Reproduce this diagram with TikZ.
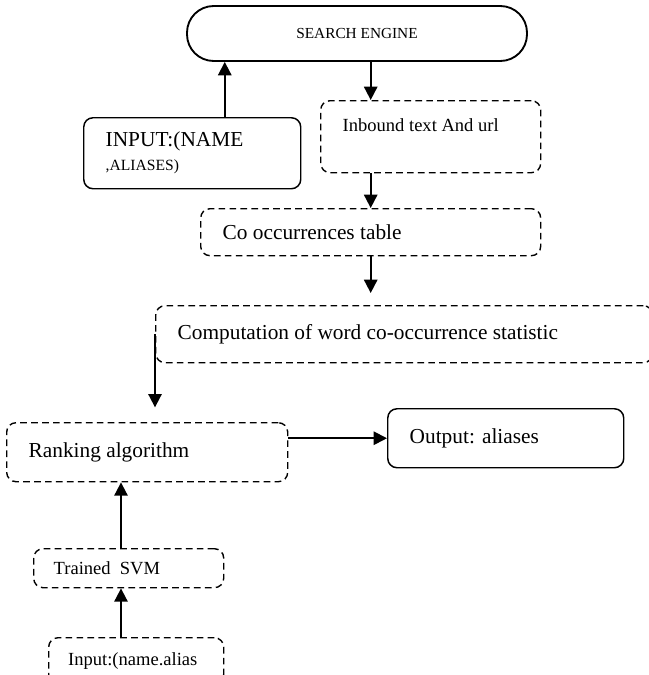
\documentclass[tikz,border=0pt]{standalone}
\usepackage{fontspec}
\setmainfont{Liberation Serif}
\usetikzlibrary{arrows.meta}

\begin{document}
\begin{tikzpicture}[x=0.75pt,y=-0.75pt,>={Triangle[length=10pt,width=10pt]}, line join=round,
    box/.style={draw, line width=1.1pt, rounded corners=7pt, anchor=north west, align=flush left, inner xsep=16.5pt, inner ysep=0pt},
    dbox/.style={box, line width=1.05pt, dash pattern=on 5pt off 3.2pt},
    conn/.style={->, line width=1.4pt}]
    \useasboundingbox (0,0) rectangle (649,675);
    \def\mainfont{\fontsize{16}{18}\selectfont}
    \def\midfont{\fontsize{13.9}{16}\selectfont}
    \node[draw, line width=1.4pt, rounded corners=20pt, minimum width=255pt, minimum height=41.25pt,
        font=\fontsize{11.5}{13}\selectfont] (engine) at (357,33.5) {SEARCH ENGINE};
    \node[box, minimum width=162.75pt, minimum height=53.25pt, text width=129.75pt] (inp) at (83,117)
        {\fontsize{16}{18}\selectfont INPUT:(NAME\\[6pt] \fontsize{11.7}{18}\selectfont ,ALIASES)};
    \node[dbox, minimum width=165pt, minimum height=54pt, text width=132pt, font=\midfont,
        text height=10pt, text depth=18pt] (inb) at (320,100) {Inbound text And url};
    \node[dbox, minimum width=255pt, minimum height=35.25pt, text width=222pt, font=\mainfont] (co) at (200,208)
        {Co occurrences table};
    \node[dbox, minimum width=372.75pt, minimum height=42.75pt, text width=339.75pt, font=\mainfont] (comp) at (155,305)
        {Computation of word co-occurrence statistic};
    \node[dbox, minimum width=210.75pt, minimum height=44.25pt, text width=177.75pt, font=\mainfont] (rank) at (6,422)
        {Ranking algorithm};
    \node[box, minimum width=177pt, minimum height=44.25pt, text width=144pt, font=\mainfont] (out) at (387,408)
        {Output: aliases};
    \node[dbox, minimum width=142.5pt, minimum height=29.25pt, text width=112.5pt, inner xsep=15pt, font=\midfont] (svm) at (33,548)
        {Trained~ SVM};
    \node[dbox, minimum width=131.25pt, minimum height=34.5pt, text width=102pt, inner xsep=14.6pt,
        font=\fontsize{13.9}{16}\selectfont] (inp2) at (48,637) {Input:(name.alias};
    \coordinate (col) at (121,0);
    \draw[conn] ([xshift=24.4pt]inp.north) -- ([xshift=24.4pt]inp.north |- engine.south);
    \draw[conn] (engine.south -| co.north) -- (inb.north -| co.north);
    \draw[conn] (inb.south -| co.north) -- (co.north);
    \draw[conn, shorten >=9pt] (co.south) -- (comp.north -| co.south);
    \draw[conn, shorten >=11pt] (comp.west) -- (comp.west |- rank.north);
    \draw[conn] (out.west -| rank.east) -- (out.west);
    \draw[conn] (svm.north -| col) -- (rank.south -| col);
    \draw[conn] (inp2.north -| col) -- (svm.south -| col);
\end{tikzpicture}
\end{document}
